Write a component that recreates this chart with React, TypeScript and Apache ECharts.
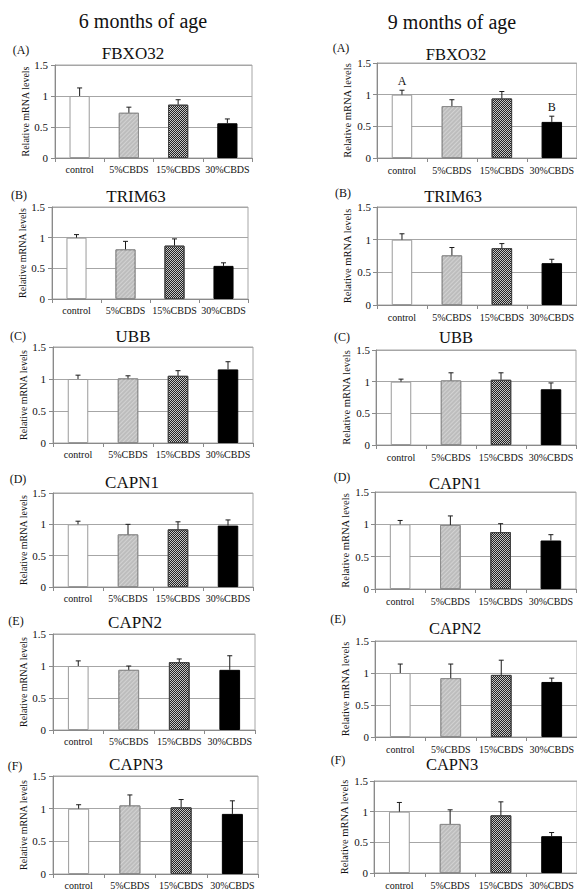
import React, { useEffect, useRef } from 'react';
import * as echarts from 'echarts';

const categories = ['control', '5%CBDS', '15%CBDS', '30%CBDS'];
const genes = ['FBXO32', 'TRIM63', 'UBB', 'CAPN1', 'CAPN2', 'CAPN3'];
const panelLabels = ['(A)', '(B)', '(C)', '(D)', '(E)', '(F)'];
const columnTitles = ['6 months of age', '9 months of age'];
const yMin = 0;
const yMax = 1.5;
const yStep = 0.5;
const yAxisName = 'Relative mRNA levels';

// 6 months of age: mean relative mRNA levels (control, 5%, 15%, 30%)
const mean6m = [
  [1.0, 0.73, 0.86, 0.56],
  [1.0, 0.81, 0.87, 0.54],
  [1.0, 1.01, 1.05, 1.15],
  [1.0, 0.84, 0.92, 0.98],
  [1.0, 0.94, 1.06, 0.94],
  [1.0, 1.05, 1.02, 0.92],
];
// 6 months of age: standard errors
const se6m = [
  [0.13, 0.09, 0.08, 0.07],
  [0.05, 0.13, 0.11, 0.05],
  [0.06, 0.04, 0.08, 0.12],
  [0.05, 0.16, 0.12, 0.09],
  [0.08, 0.06, 0.05, 0.22],
  [0.06, 0.16, 0.12, 0.20],
];
// 9 months of age
const mean9m = [
  [1.0, 0.82, 0.94, 0.57],
  [1.0, 0.76, 0.87, 0.64],
  [1.0, 1.02, 1.03, 0.88],
  [1.0, 0.99, 0.88, 0.75],
  [1.0, 0.92, 0.97, 0.86],
  [1.0, 0.80, 0.94, 0.60],
];
const se9m = [
  [0.07, 0.10, 0.11, 0.09],
  [0.09, 0.12, 0.07, 0.06],
  [0.04, 0.12, 0.11, 0.10],
  [0.06, 0.14, 0.13, 0.09],
  [0.14, 0.22, 0.23, 0.06],
  [0.15, 0.23, 0.22, 0.06],
];
// significance letters
const sig6m = [
  ['', '', '', ''], ['', '', '', ''], ['', '', '', ''],
  ['', '', '', ''], ['', '', '', ''], ['', '', '', ''],
];
const sig9m = [
  ['A', '', '', 'B'], ['', '', '', ''], ['', '', '', ''],
  ['', '', '', ''], ['', '', '', ''], ['', '', '', ''],
];

// ---- layout (pixels) ----
const FONT = 'Liberation Serif';
const gridsLeft = [
  { left: 55, top: 65, width: 197, height: 93 },
  { left: 52, top: 207, width: 196, height: 92 },
  { left: 53, top: 347, width: 200, height: 96 },
  { left: 53, top: 493, width: 200, height: 94 },
  { left: 53, top: 634, width: 202, height: 96 },
  { left: 53, top: 776, width: 205, height: 98 },
];
const gridsRight = [
  { left: 377, top: 63, width: 200, height: 95 },
  { left: 377, top: 207, width: 200, height: 98 },
  { left: 376, top: 350, width: 200, height: 95 },
  { left: 375, top: 492, width: 201, height: 97 },
  { left: 375, top: 641, width: 202, height: 96 },
  { left: 374, top: 781, width: 205, height: 96 },
];
const titlePosLeft = [[133, 53], [136, 196], [133, 336], [132, 482], [135, 622], [136, 764]];
const titlePosRight = [[456, 54], [453, 196], [456, 337], [455, 483], [455, 628], [452, 764]];
const letterPosLeft = [[21, 50], [19, 195], [18, 336], [18, 479], [16, 621], [15, 766]];
const letterPosRight = [[341, 48], [343, 193], [342, 337], [342, 477], [338, 619], [338, 760]];
const headerPos = [[143, 21], [452, 22]];

const barStyles: any[] = [
  { color: '#ffffff', borderColor: '#9a9a9a', borderWidth: 1 },
  {
    color: '#bdbdbd', borderColor: '#8c8c8c', borderWidth: 1,
    decal: { symbol: 'rect', symbolSize: 1, color: '#d2d2d2', dashArrayX: [1, 0], dashArrayY: [1, 2], rotation: -Math.PI / 4 },
  },
  {
    color: '#c4c4c4', borderColor: '#444444', borderWidth: 1,
    decal: { symbol: 'rect', symbolSize: 1, color: '#222222', dashArrayX: [[1, 1], [0, 1, 1, 0]], dashArrayY: [1, 0], rotation: 0 },
  },
  { color: '#000000', borderColor: '#000000', borderWidth: 1 },
];

function buildOption() {
  const grid: any[] = [];
  const xAxis: any[] = [];
  const yAxis: any[] = [];
  const series: any[] = [];
  const graphic: any[] = [];

  const cols = [
    { grids: gridsLeft, means: mean6m, ses: se6m, sig: sig6m, tpos: titlePosLeft, lpos: letterPosLeft, labMargin: 7, nameGap: 22, xMargin: 6, titleSize: 17, nameSize: 10 },
    { grids: gridsRight, means: mean9m, ses: se9m, sig: sig9m, tpos: titlePosRight, lpos: letterPosRight, labMargin: 6, nameGap: 21, xMargin: 7, titleSize: 16.5, nameSize: 10.5 },
  ];

  cols.forEach((col, c) => {
    graphic.push({
      type: 'text', x: headerPos[c][0], y: headerPos[c][1],
      style: { text: columnTitles[c], textAlign: 'center', textVerticalAlign: 'middle', fontSize: 20, fontFamily: FONT, fill: '#111' },
    });
    genes.forEach((gene, g) => {
      const idx = grid.length;
      const gp = col.grids[g];
      grid.push({ ...gp, show: true, borderColor: '#a6a6a6', borderWidth: 1, backgroundColor: 'transparent' });
      xAxis.push({
        type: 'category', gridIndex: idx, data: categories,
        axisLine: { show: true, lineStyle: { color: '#8a8a8a', width: 1 } },
        axisTick: { show: true, length: 4, alignWithLabel: false, interval: 0, lineStyle: { color: '#8a8a8a' } },
        axisLabel: { interval: 0, fontSize: 10, fontFamily: FONT, color: '#111', margin: col.xMargin },
        splitLine: { show: false },
      });
      yAxis.push({
        type: 'value', gridIndex: idx, min: yMin, max: yMax, interval: yStep,
        name: yAxisName, nameLocation: 'middle', nameGap: col.nameGap,
        nameTextStyle: { fontSize: col.nameSize, fontFamily: FONT, color: '#111' },
        axisLine: { show: true, lineStyle: { color: '#8a8a8a', width: 1 } },
        axisTick: { show: true, length: 4, lineStyle: { color: '#8a8a8a' } },
        axisLabel: { fontSize: 11, fontFamily: FONT, color: '#111', margin: col.labMargin },
        splitLine: { show: true, lineStyle: { color: '#a6a6a6', width: 1 } },
      });
      const means = col.means[g];
      const ses = col.ses[g];
      const sig = col.sig[g];
      series.push({
        type: 'bar', xAxisIndex: idx, yAxisIndex: idx, barWidth: '41%',
        data: means.map((v, i) => ({ value: v, itemStyle: barStyles[i] })),
        z: 2,
      });
      series.push({
        type: 'custom', xAxisIndex: idx, yAxisIndex: idx, z: 3,
        encode: { x: 0, y: 1 },
        data: means.map((v, i) => [i, v, ses[i]]),
        renderItem: (params: any, api: any) => {
          const ci = api.value(0);
          const m = api.value(1);
          const e = api.value(2);
          const p0 = api.coord([ci, m]);
          const p1 = api.coord([ci, m + e]);
          const st = { stroke: '#1a1a1a', lineWidth: 1 };
          const children: any[] = [
            { type: 'line', shape: { x1: p0[0], y1: p0[1], x2: p1[0], y2: p1[1] }, style: st },
            { type: 'line', shape: { x1: p1[0] - 2.5, y1: p1[1], x2: p1[0] + 2.5, y2: p1[1] }, style: st },
          ];
          const letter = sig[params.dataIndex];
          if (letter) {
            children.push({
              type: 'text', x: p1[0], y: p1[1] - 3,
              style: { text: letter, textAlign: 'center', textVerticalAlign: 'bottom', fontSize: 12, fontFamily: FONT, fill: '#111' },
            });
          }
          return { type: 'group', children };
        },
      });
      graphic.push({
        type: 'text', x: col.tpos[g][0], y: col.tpos[g][1],
        style: { text: gene, textAlign: 'center', textVerticalAlign: 'middle', fontSize: col.titleSize, fontFamily: FONT, fill: '#111' },
      });
      graphic.push({
        type: 'text', x: col.lpos[g][0], y: col.lpos[g][1],
        style: { text: panelLabels[g], textAlign: 'center', textVerticalAlign: 'middle', fontSize: 12, fontFamily: FONT, fill: '#111' },
      });
    });
  });

  return {
    animation: false,
    backgroundColor: '#ffffff',
    textStyle: { fontFamily: FONT },
    grid, xAxis, yAxis, series, graphic,
  };
}

export default function App() {
  const ref = useRef<HTMLDivElement>(null);
  useEffect(() => {
    if (!ref.current) return;
    const chart = echarts.init(ref.current, undefined, { renderer: 'svg' });
    chart.setOption(buildOption() as any);
    return () => chart.dispose();
  }, []);
  return (
    <div
      ref={ref}
      style={{ position: 'absolute', left: 0, top: 0, width: 577, height: 890, background: '#fff' }}
    />
  );
}
